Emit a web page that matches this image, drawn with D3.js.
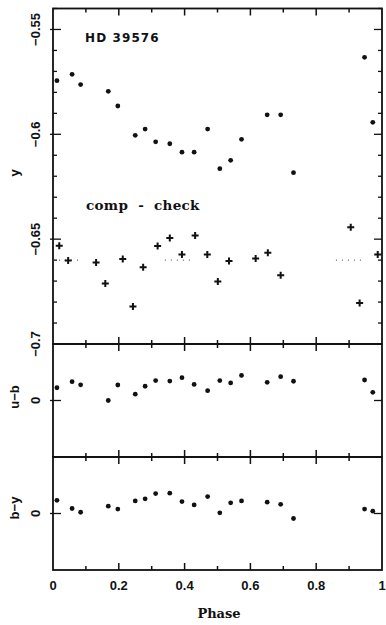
<!DOCTYPE html>
<html><head><meta charset="utf-8">
<script src="https://cdn.jsdelivr.net/npm/d3@7"></script>
<style>body{margin:0;background:#fff}svg{display:block}</style>
</head><body>
<svg id="c" width="386" height="625"></svg>
<script>
// ---- data ----
const phase = [0.012,0.058,0.084,0.168,0.197,0.250,0.280,0.312,0.355,0.392,0.429,0.470,0.507,0.540,0.573,0.651,0.692,0.731,0.947,0.972];
const yMag  = [-0.5744,-0.5714,-0.5763,-0.5795,-0.5865,-0.6005,-0.5975,-0.6036,-0.6045,-0.6085,-0.6085,-0.5975,-0.6164,-0.6124,-0.6024,-0.5907,-0.5907,-0.6183,-0.5633,-0.5943];
const ubVal = [0.0061,0.0090,0.0075,0.0000,0.0074,0.0030,0.0068,0.0095,0.0093,0.0109,0.0077,0.0047,0.0095,0.0084,0.0120,0.0087,0.0114,0.0092,0.0098,0.0039];
const byVal = [0.0063,0.0024,0.0006,0.0035,0.0021,0.0060,0.0070,0.0095,0.0097,0.0057,0.0041,0.0081,0.0003,0.0051,0.0060,0.0054,0.0044,-0.0024,0.0021,0.0011];
const ccPhase = [0.019,0.046,0.131,0.159,0.212,0.243,0.274,0.318,0.355,0.392,0.432,0.469,0.501,0.535,0.616,0.653,0.692,0.905,0.932,0.987];
const ccVal   = [-0.6532,-0.6602,-0.6611,-0.6711,-0.6595,-0.6821,-0.6634,-0.6533,-0.6495,-0.6573,-0.6482,-0.6573,-0.6702,-0.6604,-0.6592,-0.6565,-0.6672,-0.6443,-0.6804,-0.6573];
const ccMean = -0.66;
const ccLineSegments = [[0,0.09],[0.34,0.42],[0.86,0.95]];
const xTicks = [0,0.2,0.4,0.6,0.8,1];
const xTickLabels = ["0","0.2","0.4","0.6","0.8","1"];
const yTicks = [-0.55,-0.6,-0.65,-0.7];
const yTickLabels = ["\u22120.55","\u22120.6","\u22120.65","\u22120.7"];

// ---- layout ----
const svg = d3.select("#c");
const L = 53, R = 382;
const x = d3.scaleLinear().domain([0,1]).range([L,R]);
const panels = [
  {name:"y",   y: d3.scaleLinear().domain([-0.54,-0.70]).range([8.5,344])},
  {name:"u\u2212b", y: d3.scaleLinear().domain([0.027,-0.027]).range([344,457])},
  {name:"b\u2212y", y: d3.scaleLinear().domain([0.027,-0.027]).range([457,570])}
];

const ink = "#111";
function ticksX(p){
  const [y0,y1] = [p.y.range()[0], p.y.range()[1]];
  d3.range(0,1.0001,0.1).forEach((v,i)=>{
    const major = i%2===0, len = major?7:4;
    if (v<=0.0001||v>=0.9999) return;
    svg.append("line").attr("x1",x(v)).attr("x2",x(v)).attr("y1",y0).attr("y2",y0+len).attr("stroke",ink).attr("stroke-width",1.5);
    svg.append("line").attr("x1",x(v)).attr("x2",x(v)).attr("y1",y1).attr("y2",y1-len).attr("stroke",ink).attr("stroke-width",1.5);
  });
}
function tickY(p,v,major){
  const len = major?8:4;
  svg.append("line").attr("x1",L-(major?3:0)).attr("x2",L+len).attr("y1",p.y(v)).attr("y2",p.y(v)).attr("stroke",ink).attr("stroke-width",1.3);
  svg.append("line").attr("x1",R).attr("x2",R-len).attr("y1",p.y(v)).attr("y2",p.y(v)).attr("stroke",ink).attr("stroke-width",1.3);
}

panels.forEach(p=>{
  const [y0,y1] = p.y.range();
  svg.append("rect").attr("x",L).attr("y",y0).attr("width",R-L).attr("height",y1-y0)
    .attr("fill","none").attr("stroke",ink).attr("stroke-width",1.8);
  ticksX(p);
});

// top panel y ticks
const topP = panels[0];
d3.range(-0.70,-0.5399,0.01).forEach(v=>{
  const vv = Math.round(v*100)/100;
  const major = Math.abs(Math.round(vv*20)-vv*20)<1e-6;
  if (vv<=-0.7+1e-9) return;
  tickY(topP,vv,major);
});
const sans = "Liberation Sans, Arial, sans-serif";
yTicks.forEach((v,i)=>{
  svg.append("text").attr("transform",`translate(39.5,${topP.y(v)}) rotate(-90)`)
    .attr("text-anchor","middle").attr("font-family",sans)
    .attr("font-weight","bold").attr("font-size",13).attr("fill",ink).text(yTickLabels[i]);
});
[panels[1],panels[2]].forEach(p=>{
  tickY(p,0,true);
  svg.append("text").attr("transform",`translate(39.5,${p.y(0)}) rotate(-90)`)
    .attr("text-anchor","middle").attr("font-family",sans)
    .attr("font-weight","bold").attr("font-size",13).attr("fill",ink).text("0");
});

// axis titles
const titlePos = [173, 397, 508];
panels.forEach((p,i)=>{
  svg.append("text").attr("transform",`translate(19,${titlePos[i]}) rotate(-90)`)
    .attr("text-anchor","middle").attr("font-family",sans)
    .attr("font-weight","bold").attr("font-size",13).attr("fill",ink).text(p.name);
});

// x tick labels
xTicks.forEach((v,i)=>{
  svg.append("text").attr("x",x(v)).attr("y",590).attr("text-anchor","middle")
    .attr("font-family",sans).attr("font-weight","bold")
    .attr("font-size",13).attr("fill",ink).text(xTickLabels[i]);
});
svg.append("text").attr("x",219).attr("y",618).attr("text-anchor","middle")
  .attr("font-family","DejaVu Serif, serif").attr("font-weight","bold")
  .attr("font-size",13).attr("fill",ink).text("Phase");

// annotations
svg.append("text").attr("x",85).attr("y",42).attr("font-family","DejaVu Sans, sans-serif")
  .attr("font-weight","bold").attr("font-size",12).attr("letter-spacing",1.1).attr("fill",ink).text("HD 39576");
svg.append("text").attr("x",86).attr("y",210).attr("font-family","DejaVu Serif, serif")
  .attr("font-weight","bold").attr("font-size",13.5).attr("word-spacing",5).attr("letter-spacing",0.3).attr("fill",ink).text("comp - check");

// dotted mean line of comp-check
ccLineSegments.forEach(s=>{
  svg.append("line").attr("x1",x(s[0])).attr("x2",x(s[1])).attr("y1",topP.y(ccMean)).attr("y2",topP.y(ccMean))
    .attr("stroke","#444").attr("stroke-width",1).attr("stroke-dasharray","1,5");
});

// points
const dot = (p, vals) => svg.append("g").selectAll("circle").data(phase).join("circle")
  .attr("cx",d=>x(d)).attr("cy",(d,i)=>p.y(vals[i])).attr("r",2.4).attr("fill",ink);
dot(panels[0], yMag);
dot(panels[1], ubVal);
dot(panels[2], byVal);

const plusPath = "M-3.5,0L3.5,0M0,-3.5L0,3.5";
svg.append("g").selectAll("path").data(ccPhase).join("path")
  .attr("transform",(d,i)=>`translate(${x(d)},${topP.y(ccVal[i])})`)
  .attr("d", plusPath)
  .attr("stroke",ink).attr("stroke-width",2).attr("fill","none");
</script>
</body></html>
